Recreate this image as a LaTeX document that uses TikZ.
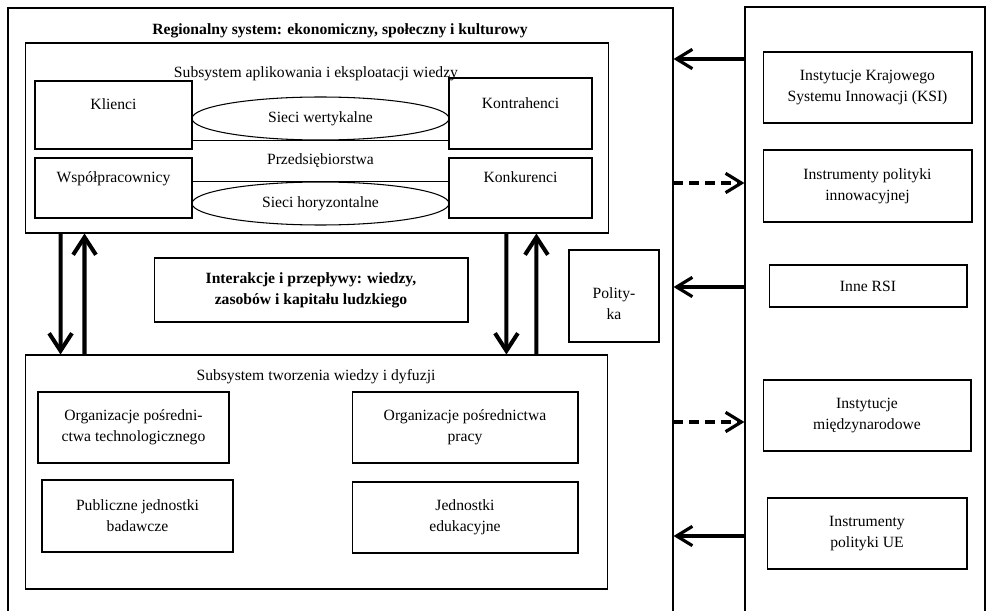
\documentclass[tikz,border=0pt]{standalone}
\usepackage{fontspec}
\setmainfont{Liberation Serif}
\usetikzlibrary{arrows.meta, positioning, shapes.geometric}

\begin{document}
\begin{tikzpicture}[x=0.02cm, y=-0.02cm,
    every node/.style={font=\fontsize{8.9}{11.9}\selectfont},
    box/.style={draw, line width=0.6pt, align=center, inner sep=1pt},
    net/.style={draw, ellipse, line width=0.6pt, inner sep=0pt, minimum width=5.14cm, minimum height=0.86cm},
    flow/.style={line width=2.3pt, arrows = {-Straight Barb[length=10pt, width=13pt]}},
    link/.style={line width=1.8pt, arrows = {-Straight Barb[length=9pt, width=11pt]}},
    weak/.style={link, dash pattern=on 5.5pt off 3.5pt}]
    \useasboundingbox (0,0) rectangle (990,611);

    % Outer frames
    \node[box, line width=0.7pt, minimum width=13.3cm, minimum height=12.16cm] (region) at (340.5,312) {};
    \node[box, line width=0.7pt, minimum width=4.8cm, minimum height=12.18cm] (rsys) at (865,311.5) {};
    \node[font=\fontsize{8.9}{11.9}\selectfont\bfseries] (title) at (340,31) {Regionalny system: ekonomiczny, społeczny i kulturowy};

    % Upper subsystem
    \node[box, minimum width=11.68cm, minimum height=3.8cm] (upper) at (317,138) {};
    \node (uppertxt) at (316,74) {Subsystem aplikowania i eksploatacji wiedzy};
    \node[box, minimum width=3.14cm, minimum height=1.36cm] (klienci) at (113.5,115) {Klienci\\ ~};
    \node[box, minimum width=2.86cm, minimum height=1.42cm] (kontr) at (520.5,113.5) {Kontrahenci\\ ~};
    \node[box, minimum width=3.14cm, minimum height=1.2cm] (wspol) at (113.5,188) {Współpracownicy\\ ~};
    \node[box, minimum width=2.86cm, minimum height=1.2cm] (konk) at (520.5,188) {Konkurenci\\ ~};
    \node[net] (wert) at (320.5,118.5) {Sieci wertykalne};
    \node[net] (hor) at (320.5,203.5) {Sieci horyzontalne};
    \node (przed) at (320.5,161) {Przedsiębiorstwa};
    \draw[line width=0.6pt] (wert.south -| klienci.east) -- (wert.south -| kontr.west);
    \draw[line width=0.6pt] (hor.north -| wspol.east) -- (hor.north -| konk.west);

    % Middle
    \node[box, font=\fontsize{8.9}{11.9}\selectfont\bfseries, minimum width=6.28cm, minimum height=1.28cm] (inter) at (311,290) {Interakcje i przepływy: wiedzy,\\ zasobów i kapitału ludzkiego};
    \node[box, text height=0.95cm, minimum width=1.8cm, minimum height=1.84cm] (polit) at (614,296) {Polity-\\ka};

    % Lower subsystem
    \node[box, minimum width=11.66cm, minimum height=4.68cm] (lower) at (316.5,472) {};
    \node (lowertxt) at (316,377) {Subsystem tworzenia wiedzy i dyfuzji};
    \node[box, minimum width=3.82cm, minimum height=1.42cm] (orgtech) at (133.5,427.5) {Organizacje pośredni-\\ctwa technologicznego};
    \node[box, minimum width=4.52cm, minimum height=1.42cm] (orgprac) at (465,427.5) {Organizacje pośrednictwa\\pracy};
    \node[box, minimum width=3.82cm, minimum height=1.44cm] (publ) at (137.5,516) {Publiczne jednostki\\badawcze};
    \node[box, minimum width=4.52cm, minimum height=1.42cm] (eduk) at (465,517.5) {Jednostki\\edukacyjne};

    % Right column
    \node[box, minimum width=4.18cm, minimum height=1.42cm] (ksi) at (867.5,87.5) {Instytucje Krajowego\\Systemu Innowacji (KSI)};
    \node[box, minimum width=4.18cm, minimum height=1.44cm] (innow) at (867.5,186) {Instrumenty polityki\\innowacyjnej};
    \node[box, minimum width=3.96cm, minimum height=0.84cm] (inne) at (868,286) {Inne RSI};
    \node[box, minimum width=4.16cm, minimum height=1.42cm] (miedzy) at (867,415.5) {Instytucje\\międzynarodowe};
    \node[box, minimum width=4.0cm, minimum height=1.42cm] (ue) at (867,533.5) {Instrumenty\\polityki UE};

    % Connections
    \draw[flow] ([xshift=0.72cm]upper.south west) -- ([xshift=0.72cm]lower.north west);
    \draw[flow] ([xshift=1.2cm]lower.north west) -- ([xshift=1.2cm]upper.south west);
    \draw[flow] ([xshift=9.64cm]upper.south west) -- ([xshift=9.64cm]lower.north west);
    \draw[flow] ([xshift=10.24cm]lower.north west) -- ([xshift=10.24cm]upper.south west);
    \draw[link] (rsys.west |- 0,59) -- (region.east |- 0,59);
    \draw[weak] (region.east |- 0,183) -- (rsys.west |- 0,183);
    \draw[link] (rsys.west |- 0,287) -- (region.east |- 0,287);
    \draw[weak] (region.east |- 0,422) -- (rsys.west |- 0,422);
    \draw[link] (rsys.west |- 0,536) -- (region.east |- 0,536);
\end{tikzpicture}
\end{document}
